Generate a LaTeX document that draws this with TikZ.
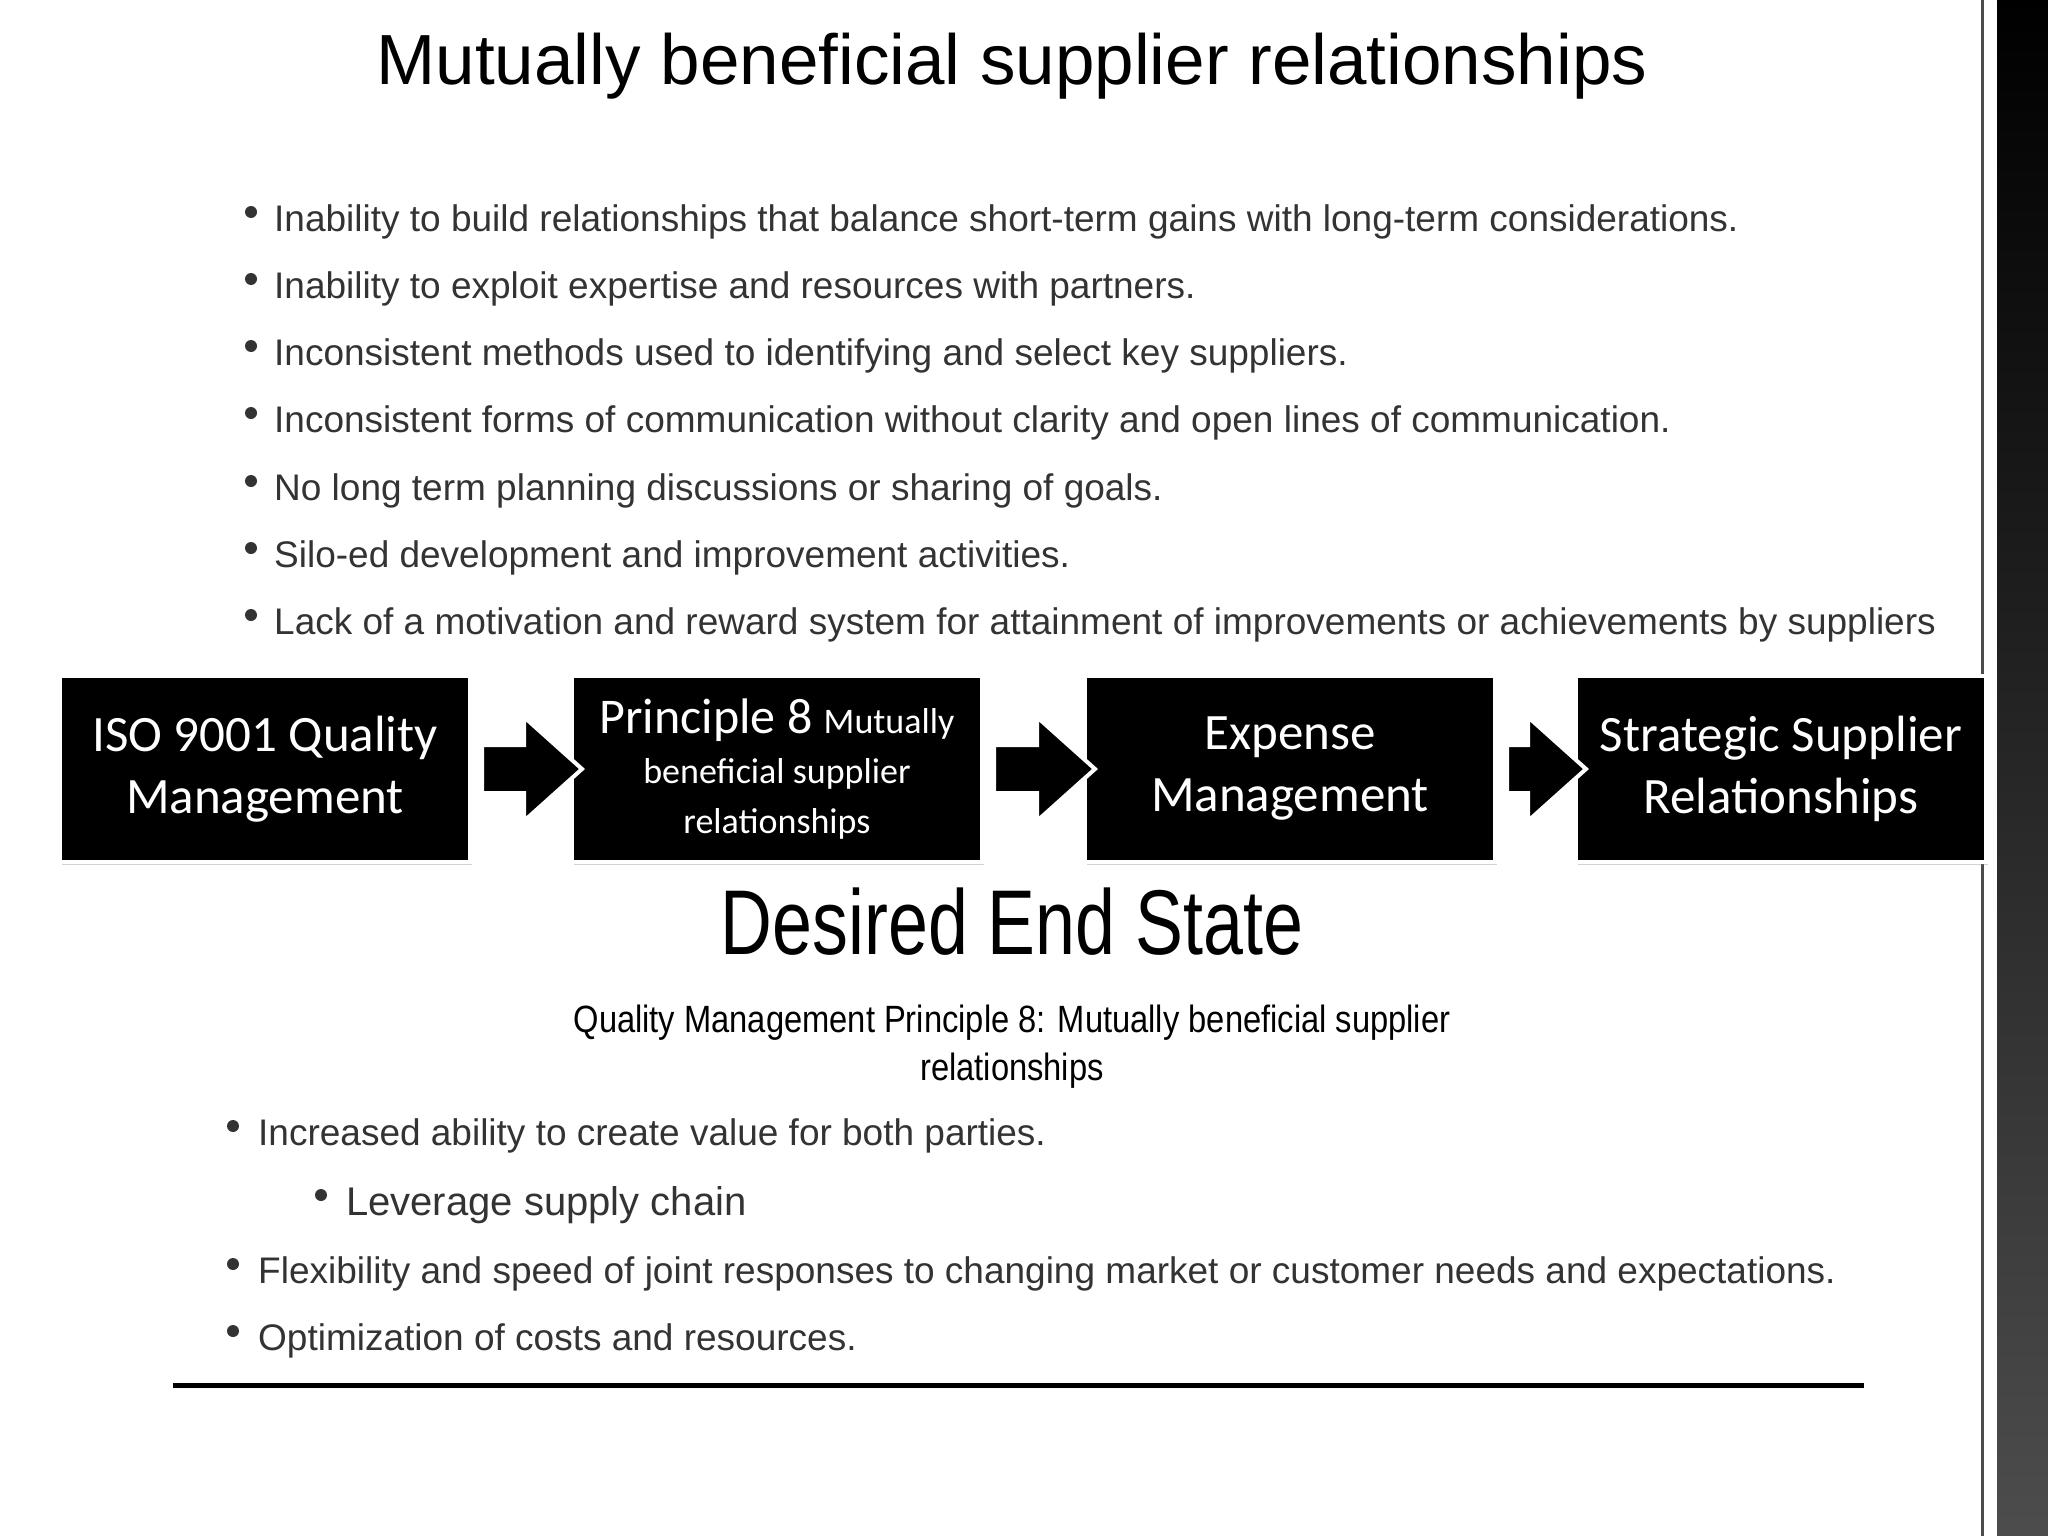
\documentclass[tikz,border=0pt]{standalone}
\usepackage{fontspec}
\setmainfont{Liberation Sans}
\newfontfamily\calfont{Carlito}
\usetikzlibrary{shadows}
\definecolor{txt}{HTML}{333333}
\begin{document}
\begin{tikzpicture}[x=1pt,y=-1pt,
 box/.style={draw=white,line width=4pt,fill=black,minimum width=410pt,minimum height=186pt,text=white,align=center,font=\calfont\fontsize{51}{62}\selectfont,drop shadow={shadow xshift=2pt,shadow yshift=-3pt,opacity=.35}},
 bl/.style={anchor=west,text=txt,font=\fontsize{37}{40}\selectfont,inner sep=0},
 dot/.style={circle,fill=txt,inner sep=0,minimum size=12pt},
 barrow/.style={fill=black,draw=white,line width=4pt,line join=miter}]
\useasboundingbox (0,0) rectangle (2048,1536);
\fill[white] (0,0) rectangle (2048,1536);
% right strip
\shade[top color=black,bottom color=gray!60!black,middle color=black!85] (1997,0) rectangle (2048,1536);
\draw[black!70,line width=3pt] (1982,0) -- (1982,1536);
\node[font=\fontsize{71}{76}\selectfont] (title) at (1012,66) {Mutually beneficial supplier relationships};
\foreach \y/\t [count=\i] in {222/Inability to build relationships that balance short-term gains with long-term considerations.,
 289/Inability to exploit expertise and resources with partners.,
 356/Inconsistent methods used to identifying and select key suppliers.,
 423/Inconsistent forms of communication without clarity and open lines of communication.,
 491/No long term planning discussions or sharing of goals.,
 558/Silo-ed development and improvement activities.,
 625/Lack of a motivation and reward system for attainment of improvements or achievements by suppliers}{
 \node[dot] (d\i) at (251,\y-10) {};
 \node[bl] (b\i) at (274,\y) {\t};}
\node[box] (n1) at (265,769) {ISO 9001 Quality\\Management};
\node[box] (n2) at (777,769) {{\fontsize{50}{50}\selectfont Principle 8 {\fontsize{36}{40}\selectfont Mutually}}\\[-12pt]{\fontsize{36}{46}\selectfont beneficial supplier}\\[-12pt]{\fontsize{36}{46}\selectfont relationships}};
\node[box] (n3) at (1290,769) {Expense\\Management};
\node[box] (n4) at (1781,769) {Strategic Supplier\\Relationships};
\foreach \a/\b in {n1/n2,n2/n3,n3/n4}{
 \path (\a.east) coordinate (s) (\b.west) coordinate (e);
 \draw[barrow] ([xshift=10pt,yshift=-24pt]s) -- ([xshift=-46pt,yshift=-24pt]e) -- ([xshift=-46pt,yshift=-52pt]e) -- ([xshift=12pt]e) -- ([xshift=-46pt,yshift=52pt]e) -- ([xshift=-46pt,yshift=24pt]e) -- ([xshift=10pt,yshift=24pt]s) -- cycle;}
\node[font=\fontsize{92}{100}\selectfont,xscale=.78] (des) at (1012,922) {Desired End State};
\node[font=\fontsize{38}{48}\selectfont,xscale=.86,align=center] (sub) at (1012,1047) {Quality Management Principle 8: Mutually beneficial supplier\\relationships};
\foreach \x/\y/\t/\s [count=\i] in {258/1136/Increased ability to create value for both parties./37,
 346/1205/Leverage supply chain/40,
 258/1274/Flexibility and speed of joint responses to changing market or customer needs and expectations./37,
 258/1341/Optimization of costs and resources./37}{
 \node[dot] (e\i) at (\x-25,\y-10) {};
 \node[bl,font=\fontsize{\s}{40}\selectfont] (c\i) at (\x,\y) {\t};}
\draw[line width=5pt,drop shadow={shadow xshift=2pt,shadow yshift=-3pt,opacity=.4}] (173,1385) -- (1864,1385);
\end{tikzpicture}
\end{document}
